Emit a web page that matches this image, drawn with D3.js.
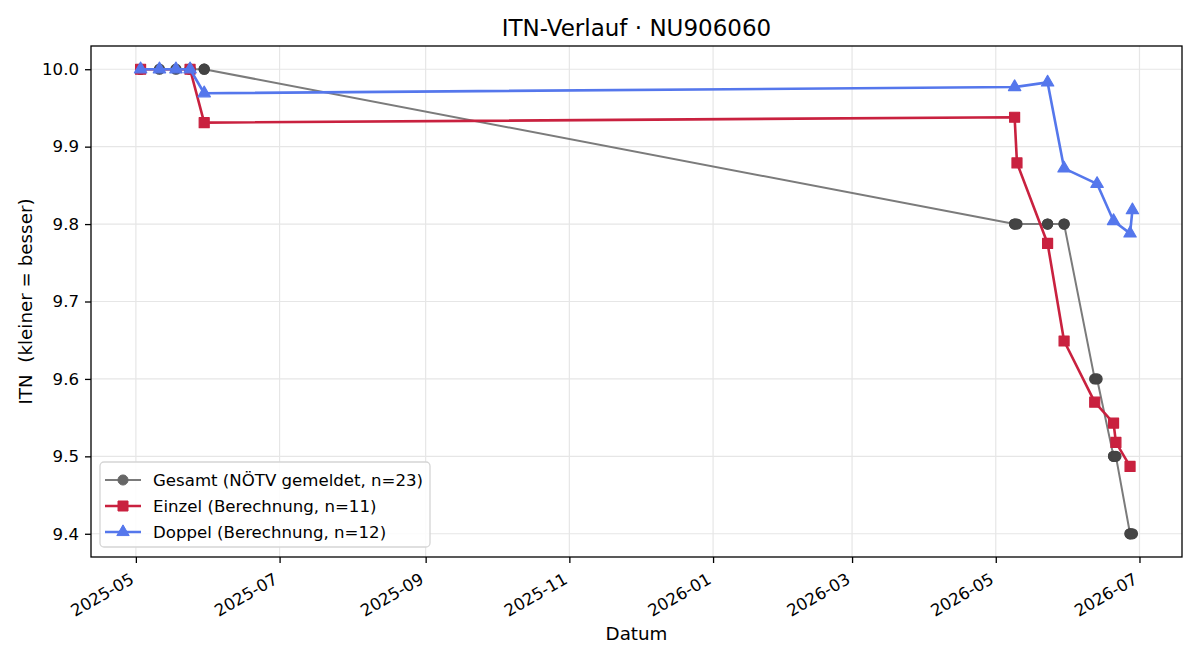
<!DOCTYPE html>
<html>
<head>
<meta charset="utf-8">
<script src="https://cdn.jsdelivr.net/npm/d3@7"></script>
<style>
	body { margin: 0; background: #fff; }
	svg { font-family: "DejaVu Sans", sans-serif; }
</style>
</head>
<body>
<svg id="chart" width="1200" height="660"></svg>
<script>
// data
var einzelDates = ["2025-05-03", "2025-05-24", "2025-05-30", "2026-05-09", "2026-05-10", "2026-05-23",
	"2026-05-30", "2026-06-12", "2026-06-20", "2026-06-21", "2026-06-27"];
var einzelValues = [10.0, 10.0, 9.931, 9.938, 9.879, 9.775, 9.649, 9.570, 9.543, 9.518, 9.487];

var doppelDates = ["2025-05-03", "2025-05-11", "2025-05-18", "2025-05-24", "2025-05-30", "2026-05-09",
	"2026-05-23", "2026-05-30", "2026-06-13", "2026-06-20", "2026-06-27", "2026-06-28"];
var doppelValues = [10.0, 10.0, 10.0, 10.0, 9.969, 9.977, 9.983, 9.872, 9.852, 9.804, 9.788, 9.818];

var gesamtDates = ["2025-05-03", "2025-05-03", "2025-05-11", "2025-05-18", "2025-05-24", "2025-05-24",
	"2025-05-30", "2025-05-30", "2026-05-09", "2026-05-09", "2026-05-10", "2026-05-23", "2026-05-23",
	"2026-05-30", "2026-05-30", "2026-06-12", "2026-06-13", "2026-06-20", "2026-06-20", "2026-06-21",
	"2026-06-27", "2026-06-27", "2026-06-28"];
var gesamtValues = [10.0, 10.0, 10.0, 10.0, 10.0, 10.0, 10.0, 10.0, 9.8, 9.8, 9.8, 9.8, 9.8,
	9.8, 9.8, 9.6, 9.6, 9.5, 9.5, 9.5, 9.4, 9.4, 9.4];

var yTicks = [9.4, 9.5, 9.6, 9.7, 9.8, 9.9, 10.0];
var xTickLabels = ["2025-05", "2025-07", "2025-09", "2025-11", "2026-01", "2026-03", "2026-05", "2026-07"];

var titleText = "ITN-Verlauf \u00b7 NU906060";
var xLabel = "Datum";
var yLabel = "ITN  (kleiner = besser)";

var parseDay = d3.utcParse("%Y-%m-%d");
var parseMonth = d3.utcParse("%Y-%m");

function zip(dates, values) {
	return dates.map(function (d, i) {
		return {date: parseDay(d), value: values[i]};
	});
}

var series = [
	{name: "Gesamt (N\u00d6TV gemeldet, n=23)", data: zip(gesamtDates, gesamtValues),
		line: "#7b7b7b", width: 2, marker: "circle", fill: "#444", legendFill: "#666"},
	{name: "Einzel (Berechnung, n=11)", data: zip(einzelDates, einzelValues),
		line: "#c9213f", width: 2.6, marker: "square", fill: "#c9213f", legendFill: "#c9213f"},
	{name: "Doppel (Berechnung, n=12)", data: zip(doppelDates, doppelValues),
		line: "#5577ec", width: 2.6, marker: "triangle", fill: "#5577ec", legendFill: "#5577ec"}
];

var plot = {left: 91, right: 1182, top: 46, bottom: 557};
var fontSize = 16.6, labelSize = 18.3;
var svg = d3.select("#chart");

// matplotlib style 5% margins
var allPoints = [].concat.apply([], series.map(function (s) { return s.data; }));
var xExt = d3.extent(allPoints, function (d) { return +d.date; });
var yExt = d3.extent(allPoints, function (d) { return d.value; });
var xPad = (xExt[1] - xExt[0]) * 0.05, yPad = (yExt[1] - yExt[0]) * 0.05;

var x = d3.scaleUtc().domain([new Date(xExt[0] - xPad), new Date(xExt[1] + xPad)]).range([plot.left, plot.right]);
var y = d3.scaleLinear().domain([yExt[0] - yPad, yExt[1] + yPad]).range([plot.bottom, plot.top]);

var xTicks = xTickLabels.map(function (t) { return parseMonth(t); });

// grid
var grid = svg.append("g");
grid.selectAll("line.gx").data(xTicks).enter().append("line")
	.attr("x1", function (d) { return x(d); }).attr("x2", function (d) { return x(d); })
	.attr("y1", plot.top).attr("y2", plot.bottom)
	.style("stroke", "#e6e6e6").style("stroke-width", 1.2);
grid.selectAll("line.gy").data(yTicks).enter().append("line")
	.attr("x1", plot.left).attr("x2", plot.right)
	.attr("y1", function (d) { return y(d); }).attr("y2", function (d) { return y(d); })
	.style("stroke", "#e6e6e6").style("stroke-width", 1.2);

// series
var line = d3.line()
	.x(function (d) { return x(d.date); })
	.y(function (d) { return y(d.value); });

var symbols = {
	circle: d3.symbol().type(d3.symbolCircle).size(80),
	square: d3.symbol().type(d3.symbolSquare).size(100),
	triangle: d3.symbol().type(d3.symbolTriangle).size(66)
};

series.forEach(function (s) {
	var g = svg.append("g");
	g.append("path")
		.datum(s.data)
		.attr("d", line)
		.style("fill", "none")
		.style("stroke", s.line)
		.style("stroke-width", s.width)
		.style("stroke-linejoin", "round");
	g.selectAll("path.m").data(s.data).enter().append("path")
		.attr("d", symbols[s.marker])
		.attr("transform", function (d) { return "translate(" + x(d.date) + "," + y(d.value) + ")"; })
		.style("fill", s.fill)
		.style("stroke", s.fill)
		.style("stroke-width", 1.2)
		.style("stroke-linejoin", "round");
});

// frame
svg.append("rect")
	.attr("x", plot.left).attr("y", plot.top)
	.attr("width", plot.right - plot.left).attr("height", plot.bottom - plot.top)
	.style("fill", "none").style("stroke", "#000").style("stroke-width", 1.3);

// axes
var xAxis = svg.append("g")
	.attr("transform", "translate(0," + plot.bottom + ")")
	.call(d3.axisBottom(x).tickValues(xTicks).tickFormat(d3.utcFormat("%Y-%m")).tickSize(6).tickSizeOuter(0));
xAxis.select(".domain").remove();
xAxis.selectAll(".tick line").style("stroke-width", 1.3);
xAxis.selectAll("text")
	.style("font-size", fontSize + "px")
	.style("font-family", "DejaVu Sans")
	.attr("text-anchor", "end")
	.attr("y", 0).attr("dy", "0.93em")
	.attr("transform", "translate(-9,12) rotate(-30)");

var yAxis = svg.append("g")
	.attr("transform", "translate(" + plot.left + ",0)")
	.call(d3.axisLeft(y).tickValues(yTicks).tickFormat(d3.format(".1f")).tickSize(6).tickPadding(6).tickSizeOuter(0));
yAxis.select(".domain").remove();
yAxis.selectAll(".tick line").style("stroke-width", 1.3);
yAxis.selectAll("text").style("font-size", fontSize + "px").style("font-family", "DejaVu Sans");

// labels
svg.append("text")
	.attr("x", (plot.left + plot.right) / 2).attr("y", 36)
	.attr("text-anchor", "middle")
	.style("font-size", "23px")
	.text(titleText);
svg.append("text")
	.attr("x", (plot.left + plot.right) / 2).attr("y", 640)
	.attr("text-anchor", "middle")
	.style("font-size", labelSize + "px")
	.text(xLabel);
svg.append("text")
	.attr("transform", "translate(32," + ((plot.top + plot.bottom) / 2) + ") rotate(-90)")
	.attr("text-anchor", "middle")
	.style("font-size", labelSize + "px")
	.style("white-space", "pre")
	.text(yLabel);

// legend
var legend = svg.append("g").attr("transform", "translate(100,462)");
legend.append("rect")
	.attr("width", 330).attr("height", 85)
	.attr("rx", 4)
	.style("fill", "#fff").style("fill-opacity", 0.85)
	.style("stroke", "#d5d5d5").style("stroke-width", 1.3);
series.forEach(function (s, i) {
	var row = legend.append("g").attr("transform", "translate(0," + (18 + i * 26) + ")");
	row.append("line")
		.attr("x1", 5).attr("x2", 41)
		.style("stroke", s.line).style("stroke-width", s.width);
	row.append("path")
		.attr("d", symbols[s.marker])
		.attr("transform", "translate(23,0)")
		.style("fill", s.legendFill).style("stroke", s.legendFill);
	row.append("text")
		.attr("x", 53).attr("dy", "0.35em")
		.style("font-size", fontSize + "px")
		.text(s.name);
});
</script>
</body>
</html>
